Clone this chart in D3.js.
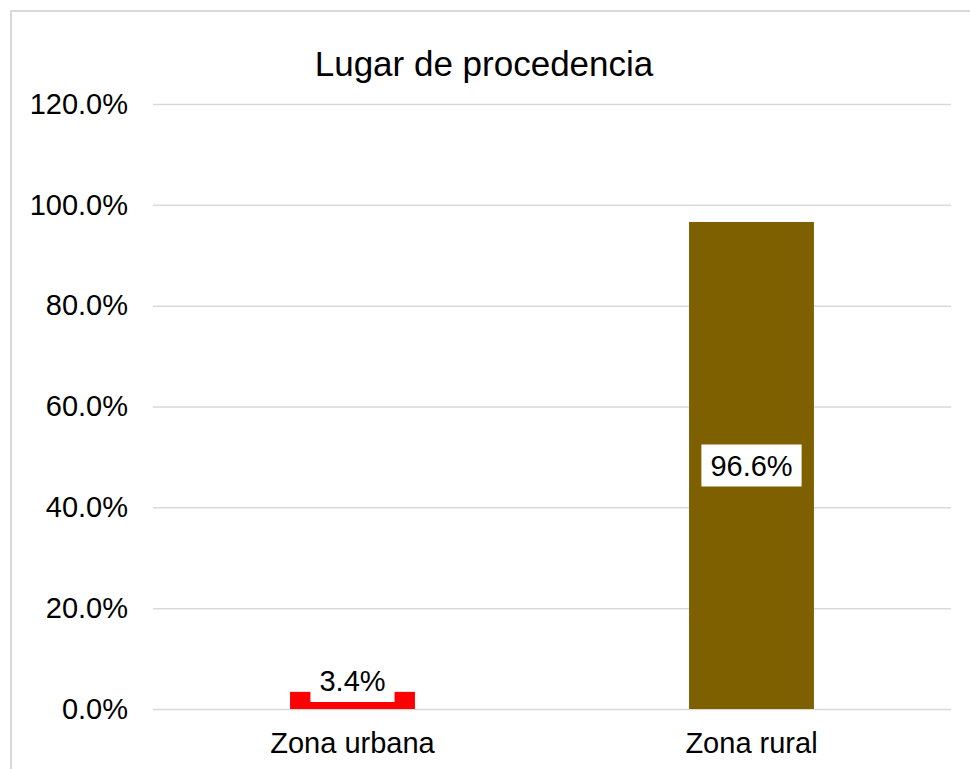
<!DOCTYPE html>
<html>
<head>
<meta charset="utf-8">
<script src="https://cdn.jsdelivr.net/npm/d3@7"></script>
<style>
  body { margin: 0; background: #fff; }
  svg text { font-family: "Liberation Sans", Arial, sans-serif; fill: #000; }
</style>
</head>
<body>
<div id="app"></div>
<script>
// chart data
const categories = ["Zona urbana", "Zona rural"];
const values = [0.034, 0.966];
const barColors = ["#ff0000", "#7f6000"];
const yTicks = [0, 0.2, 0.4, 0.6, 0.8, 1.0, 1.2];
const chartTitle = "Lugar de procedencia";

const width = 970, height = 769;
const plot = { left: 153, right: 951, top: 104, bottom: 709 };
const fontSize = 29;

const svg = d3.select("#app").append("svg")
  .attr("width", width)
  .attr("height", height);

// outer chart border (right/bottom edges fall outside the picture)
svg.append("rect")
  .attr("x", 11).attr("y", 11)
  .attr("width", 1000).attr("height", 800)
  .attr("fill", "#fff")
  .attr("stroke", "#d9d9d9")
  .attr("stroke-width", 2);

// title
svg.append("text")
  .attr("x", 484)
  .attr("y", 76)
  .attr("text-anchor", "middle")
  .style("font-size", "35px")
  .text(chartTitle);

const x = d3.scaleBand()
  .domain(categories)
  .range([plot.left, plot.right])
  .paddingInner(0.687)
  .paddingOuter(0.3435);

const y = d3.scaleLinear()
  .domain([0, 1.2])
  .range([plot.bottom, plot.top]);

// gridlines + y tick labels
const yAxis = svg.append("g")
  .attr("class", "y-axis")
  .attr("transform", `translate(${plot.left},0)`)
  .call(d3.axisLeft(y)
    .tickValues(yTicks)
    .tickSize(-(plot.right - plot.left))
    .tickPadding(25)
    .tickFormat(d3.format(".1%")));
yAxis.select(".domain").remove();
yAxis.selectAll(".tick line")
  .attr("stroke", "#d9d9d9")
  .attr("stroke-width", 1.5);
yAxis.selectAll(".tick text")
  .attr("fill", "#000")
  .style("font-size", fontSize + "px")
  .style("font-family", '"Liberation Sans", Arial, sans-serif');

// bars
svg.append("g").attr("class", "columns")
  .selectAll("rect")
  .data(values)
  .join("rect")
  .attr("x", (d, i) => x(categories[i]))
  .attr("y", d => y(d))
  .attr("width", x.bandwidth())
  .attr("height", d => y(0) - y(d))
  .attr("fill", (d, i) => barColors[i]);

// data labels with white boxes
const fmt = d3.format(".1%");
const boxH = 42, padX = 9;
const labels = svg.append("g").attr("class", "labels")
  .selectAll("g")
  .data(values)
  .join("g")
  .attr("transform", (d, i) => {
    const cx = x(categories[i]) + x.bandwidth() / 2;
    const cy = Math.min((y(d) + y(0)) / 2, y(0) - boxH / 2 - 7);
    return `translate(${cx},${cy})`;
  });
labels.append("text")
  .attr("text-anchor", "middle")
  .attr("dy", "0.35em")
  .style("font-size", fontSize + "px")
  .text(d => fmt(d))
  .each(function () {
    const w = this.getComputedTextLength() + padX * 2;
    d3.select(this.parentNode).insert("rect", "text")
      .attr("x", -w / 2)
      .attr("y", -boxH / 2)
      .attr("width", w)
      .attr("height", boxH)
      .attr("fill", "#fff");
  });

// category labels
svg.append("g").attr("class", "x-axis")
  .selectAll("text")
  .data(categories)
  .join("text")
  .attr("x", d => x(d) + x.bandwidth() / 2)
  .attr("y", 753)
  .attr("text-anchor", "middle")
  .style("font-size", fontSize + "px")
  .text(d => d);
</script>
</body>
</html>
